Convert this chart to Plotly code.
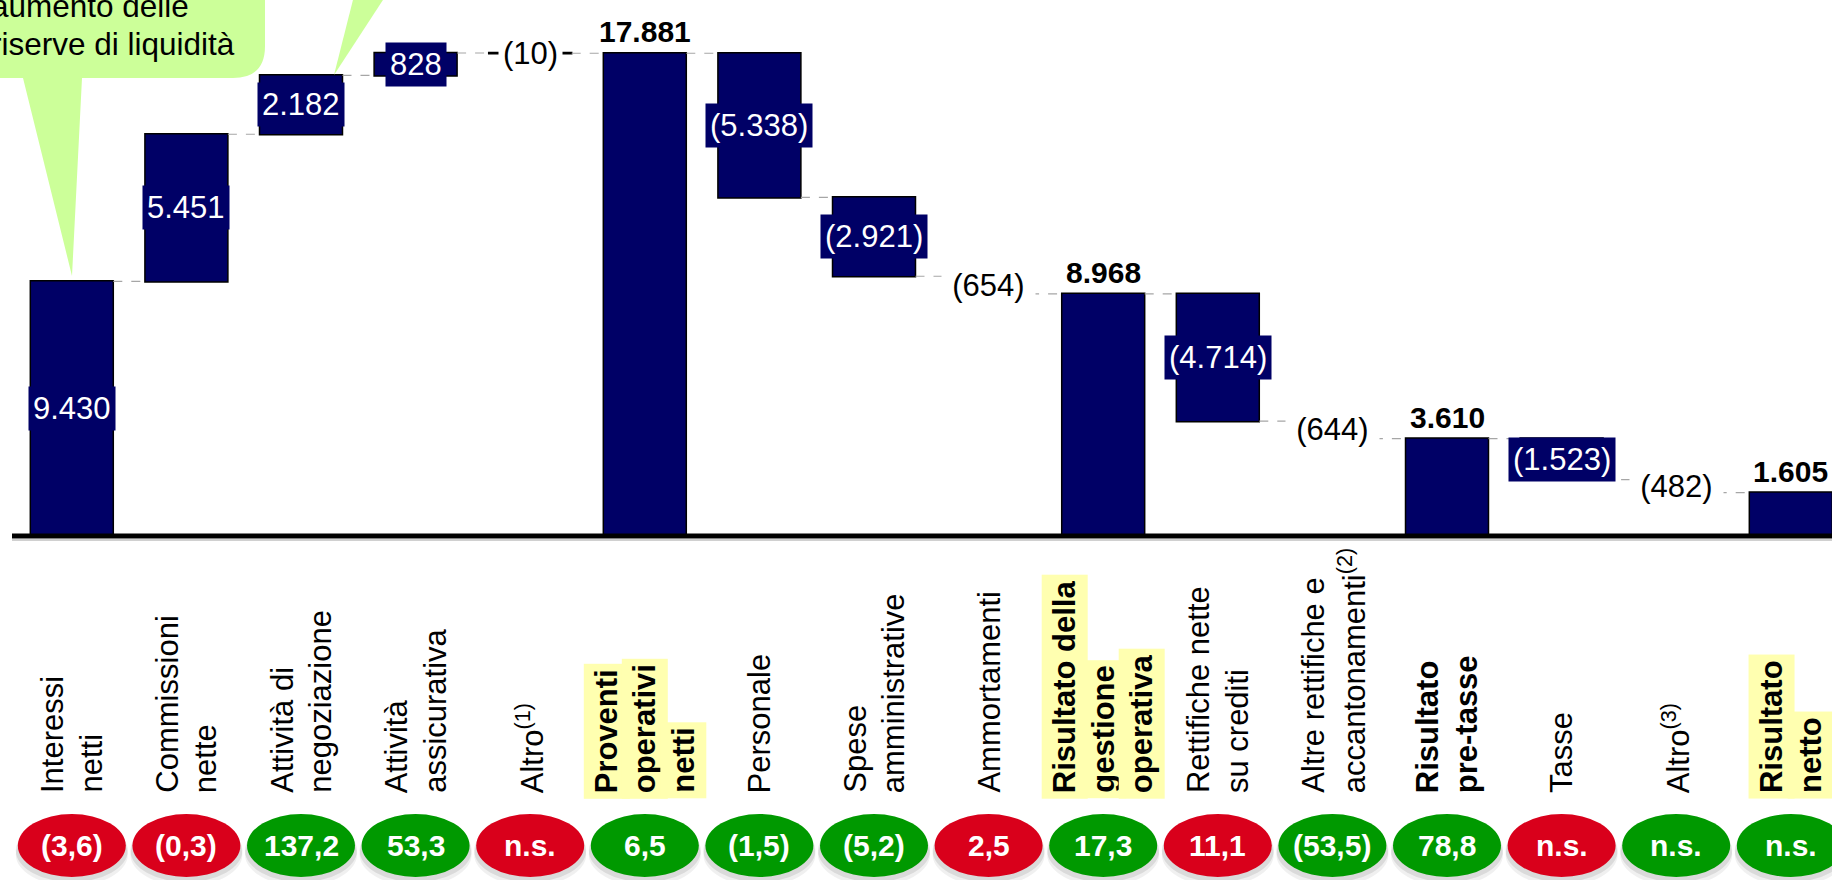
import plotly.graph_objects as go

# ---- data -------------------------------------------------------------
category_lines = [
    ["Interessi", "netti"],
    ["Commissioni", "nette"],
    ["Attività di", "negoziazione"],
    ["Attività", "assicurativa"],
    ["Altro<sup>(1)</sup>"],
    ["Proventi", "operativi", "netti"],
    ["Personale"],
    ["Spese", "amministrative"],
    ["Ammortamenti"],
    ["Risultato della", "gestione", "operativa"],
    ["Rettifiche nette", "su crediti"],
    ["Altre rettifiche e", "accantonamenti<sup>(2)</sup>"],
    ["Risultato", "pre-tasse"],
    ["Tasse"],
    ["Altro<sup>(3)</sup>"],
    ["Risultato", "netto"],
]
values = [9430, 5451, 2182, 828, -10, 17881, -5338, -2921, -654,
          8968, -4714, -644, 3610, -1523, -482, 1605]
measures = ["relative", "relative", "relative", "relative", "relative", "absolute",
            "relative", "relative", "relative", "absolute",
            "relative", "relative", "absolute",
            "relative", "relative", "absolute"]
delta_labels = ["(3,6)", "(0,3)", "137,2", "53,3", "n.s.", "6,5", "(1,5)", "(5,2)",
                "2,5", "17,3", "11,1", "(53,5)", "78,8", "n.s.", "n.s.", "n.s."]
delta_favorable = [False, False, True, True, False, True, True, True,
                   False, True, False, True, True, False, True, True]
subtotal_highlight = [5, 9, 15]
bubble_lines = ["aumento delle", "riserve di liquidità"]

# ---- geometry ---------------------------------------------------------
W, H = 1832, 880
PITCH = 114.6          # px per category
FIRST_CENTER = 71.8    # px of first category centre
BAR_W = 0.724          # bar width in category units
ZERO_PX = 536
PEAK_PX = 53
FONT = "Liberation Sans, Arial, sans-serif"
NAVY = "#000066"

n = len(values)
xs = list(range(n))

# running start / end of each bar
starts, ends = [], []
run = 0
for v, m in zip(values, measures):
    if m == "absolute":
        s, e = 0, v
    else:
        s, e = run, run + v
    starts.append(s)
    ends.append(e)
    run = e

unit_px = (ZERO_PX - PEAK_PX) / max(ends)
x0 = -FIRST_CENTER / PITCH
x1 = x0 + W / PITCH
y_top = ZERO_PX / unit_px
y_bot = -(H - ZERO_PX) / unit_px


def py_paper(py):
    return 1 - py / H


def px_paper(px):
    return px / W


def fmt(v):
    s = f"{abs(v):,}".replace(",", ".")
    return f"({s})" if v < 0 else s


fig = go.Figure()
fig.add_trace(go.Waterfall(
    x=xs, y=values, measure=measures, width=BAR_W,
    increasing=dict(marker=dict(color=NAVY, line=dict(color="black", width=1.5))),
    decreasing=dict(marker=dict(color=NAVY, line=dict(color="black", width=1.5))),
    totals=dict(marker=dict(color=NAVY, line=dict(color="black", width=1.5))),
    connector=dict(mode="between", line=dict(color="#A6A6A6", width=1.2, dash="dash")),
    textinfo="none", hoverinfo="skip", showlegend=False,
))

annotations = []
shapes = []

# value labels
for i, (v, m) in enumerate(zip(values, measures)):
    lo, hi = min(starts[i], ends[i]), max(starts[i], ends[i])
    bar_px = (hi - lo) * unit_px
    if m == "absolute":
        annotations.append(dict(
            x=i, y=hi, xref="x", yref="y", text=fmt(v), showarrow=False,
            yanchor="bottom", yshift=4, borderpad=0,
            font=dict(family=FONT, size=30, color="black", weight="bold")))
    elif abs(v) >= 700:
        annotations.append(dict(
            x=i, y=(lo + hi) / 2, xref="x", yref="y", text=fmt(v), showarrow=False,
            yanchor="middle", bgcolor=NAVY, borderpad=4,
            font=dict(family=FONT, size=31, color="white")))
    else:
        ann = dict(
            x=i, y=(lo + hi) / 2, xref="x", yref="y", text=fmt(v), showarrow=False,
            yanchor="middle", bgcolor="white", borderpad=4,
            font=dict(family=FONT, size=31, color="black"))
        if bar_px >= 1:
            ann["width"] = BAR_W * PITCH + 2
        annotations.append(ann)

# category labels, one rotated line each
LINE_PITCH = 38.5
LABEL_BOTTOM = 799
for i, lines in enumerate(category_lines):
    bold = i in subtotal_highlight or i == 12
    k = len(lines)
    for j, line in enumerate(lines):
        ann = dict(
            x=i, y=py_paper(LABEL_BOTTOM), xref="x", yref="paper", text=line,
            showarrow=False, textangle=-90, xanchor="center", yanchor="bottom",
            xshift=(j - (k - 1) / 2) * LINE_PITCH, borderpad=5,
            font=dict(family=FONT, size=31, color="black",
                      weight="bold" if bold else "normal"))
        if i in subtotal_highlight:
            ann["bgcolor"] = "#FFFFB0"
        annotations.append(ann)

# change ovals
E_HALF_W = 54 / PITCH
E_TOP, E_BOT = 814, 877
for i, (lab, fav) in enumerate(zip(delta_labels, delta_favorable)):
    for dy, alpha in ((9, 0.06), (5, 0.09)):
        shapes.append(dict(
            type="circle", xref="x", yref="paper", layer="above",
            x0=i - E_HALF_W - 2 / PITCH, x1=i + E_HALF_W + 2 / PITCH,
            y0=py_paper(E_BOT + dy), y1=py_paper(E_TOP + dy),
            fillcolor=f"rgba(0,0,0,{alpha})", line=dict(width=0)))
    shapes.append(dict(
        type="circle", xref="x", yref="paper", layer="above",
        x0=i - E_HALF_W, x1=i + E_HALF_W,
        y0=py_paper(E_BOT), y1=py_paper(E_TOP),
        fillcolor="#009900" if fav else "#D9001B", line=dict(width=0)))
    annotations.append(dict(
        x=i, y=py_paper((E_TOP + E_BOT) / 2), xref="x", yref="paper", text=lab,
        showarrow=False, yanchor="middle",
        font=dict(family=FONT, size=30, color="white", weight="bold")))

# baseline
shapes.append(dict(type="line", xref="paper", yref="paper", layer="above",
                   x0=px_paper(12), x1=1, y0=py_paper(540), y1=py_paper(540),
                   line=dict(color="#C0C0C0", width=1.5)))
shapes.append(dict(type="line", xref="paper", yref="y", layer="above",
                   x0=px_paper(12), x1=1, y0=0, y1=0,
                   line=dict(color="black", width=5)))


# callout bubbles
def path(points, curves=None):
    return points


bubble = (
    f"M {px_paper(-60)},{py_paper(-60)} L {px_paper(265)},{py_paper(-60)} "
    f"L {px_paper(265)},{py_paper(46)} "
    f"Q {px_paper(265)},{py_paper(78)} {px_paper(233)},{py_paper(78)} "
    f"L {px_paper(82)},{py_paper(78)} L {px_paper(72)},{py_paper(276)} "
    f"L {px_paper(23)},{py_paper(78)} L {px_paper(-60)},{py_paper(78)} Z"
)
tail2 = (
    f"M {px_paper(358)},{py_paper(-20)} L {px_paper(396)},{py_paper(-20)} "
    f"L {px_paper(334)},{py_paper(75)} Z"
)
for p in (bubble, tail2):
    shapes.append(dict(type="path", xref="paper", yref="paper", path=p,
                       fillcolor="#CCFF99", line=dict(width=0), layer="above"))

for txt, cy in zip(bubble_lines, (6, 44)):
    annotations.append(dict(
        x=px_paper(-10), y=py_paper(cy), xref="paper", yref="paper", text=txt,
        showarrow=False, xanchor="left", yanchor="middle", borderpad=0,
        font=dict(family=FONT, size=31.5, color="black")))

fig.update_layout(
    width=W, height=H, margin=dict(l=0, r=0, t=0, b=0),
    paper_bgcolor="white", plot_bgcolor="white",
    xaxis=dict(range=[x0, x1], visible=False, fixedrange=True),
    yaxis=dict(range=[y_bot, y_top], visible=False, fixedrange=True),
    annotations=annotations, shapes=shapes, showlegend=False,
)

fig.write_html("out.html")
